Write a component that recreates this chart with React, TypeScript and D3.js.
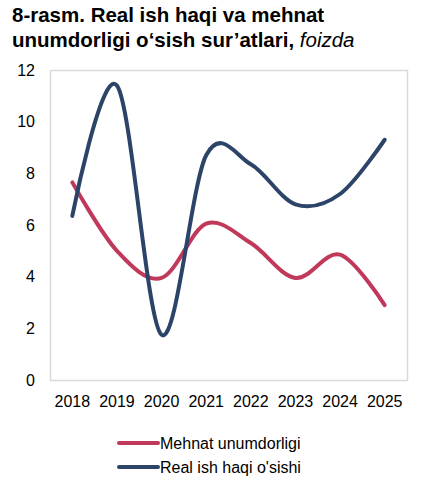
import React, { useEffect, useRef } from 'react';
import * as d3 from 'd3';

const years = ['2018', '2019', '2020', '2021', '2022', '2023', '2024', '2025'];
const mehnatUnumdorligi = [7.65, 5.0, 3.95, 6.05, 5.3, 3.95, 4.85, 2.9];
const realIshHaqi = [6.35, 11.4, 1.75, 8.7, 8.35, 6.8, 7.2, 9.3];
const yTicks = [0, 2, 4, 6, 8, 10, 12];

const seriesList = [
  { name: 'Mehnat unumdorligi', values: mehnatUnumdorligi, color: '#C0385A' },
  { name: "Real ish haqi o'sishi", values: realIshHaqi, color: '#2C4468' },
];

const W = 438;
const H = 480;
const margin = { top: 70, right: 31, bottom: 100, left: 50 };
const font = 'Liberation Sans, Arial, sans-serif';

export default function App() {
  const svgRef = useRef<SVGSVGElement>(null);

  useEffect(() => {
    if (!svgRef.current) return;
    const svg = d3.select(svgRef.current);
    svg.selectAll('*').remove();

    const innerW = W - margin.left - margin.right;
    const innerH = H - margin.top - margin.bottom;

    // sarlavha
    const title = svg.append('text')
      .attr('x', 12)
      .style('font-family', font)
      .style('font-size', '20.5px')
      .style('font-weight', 'bold')
      .style('fill', '#000');
    title.append('tspan').attr('x', 12).attr('y', 22).text('8-rasm. Real ish haqi va mehnat');
    const l2 = title.append('tspan').attr('x', 12).attr('y', 47).text('unumdorligi o‘sish sur’atlari, ');
    l2.append('tspan').style('font-style', 'italic').style('font-weight', 'normal').text('foizda');

    const g = svg.append('g').attr('transform', `translate(${margin.left},${margin.top})`);

    const x = d3.scaleBand().domain(years).range([0, innerW]);
    const y = d3.scaleLinear().domain([0, 12]).range([innerH, 0]);

    // chizma maydoni ramkasi
    g.append('rect')
      .attr('x', 0.5)
      .attr('y', 0.5)
      .attr('width', innerW)
      .attr('height', innerH)
      .attr('fill', 'none')
      .attr('stroke', '#d9d9d9')
      .attr('stroke-width', 1.5);

    // Y o'qi yozuvlari
    g.selectAll('.ytick')
      .data(yTicks)
      .enter()
      .append('text')
      .attr('x', -15)
      .attr('y', d => y(d))
      .attr('dy', '0.35em')
      .attr('text-anchor', 'end')
      .style('font-family', font)
      .style('font-size', '16px')
      .style('fill', '#000')
      .text(d => d);

    // X o'qi yozuvlari
    g.selectAll('.xtick')
      .data(years)
      .enter()
      .append('text')
      .attr('x', d => x(d)! + x.bandwidth() / 2)
      .attr('y', innerH + 27)
      .attr('text-anchor', 'middle')
      .style('font-family', font)
      .style('font-size', '16px')
      .style('fill', '#000')
      .text(d => d);

    const line = d3.line<number>()
      .x((_, i) => x(years[i])! + x.bandwidth() / 2)
      .y(d => y(d))
      .curve(d3.curveCardinal.tension(0));

    seriesList.forEach(s => {
      g.append('path')
        .attr('d', line(s.values))
        .attr('fill', 'none')
        .attr('stroke', s.color)
        .attr('stroke-width', 4)
        .attr('stroke-linecap', 'round');
    });

    // legenda
    const legend = svg.append('g').attr('transform', 'translate(119,443)');
    seriesList.forEach((s, i) => {
      const row = legend.append('g').attr('transform', `translate(0,${i * 24})`);
      row.append('line')
        .attr('x1', 0)
        .attr('x2', 39)
        .attr('y1', 0)
        .attr('y2', 0)
        .attr('stroke', s.color)
        .attr('stroke-width', 4)
        .attr('stroke-linecap', 'round');
      row.append('text')
        .attr('x', 41)
        .attr('y', 0)
        .attr('dy', '0.35em')
        .style('font-family', font)
        .style('font-size', '16px')
        .style('fill', '#000')
        .text(s.name);
    });
  }, []);

  return (
    <svg
      ref={svgRef}
      width={W}
      height={H}
      style={{ position: 'absolute', left: 0, top: 0, background: '#fff' }}
    />
  );
}
